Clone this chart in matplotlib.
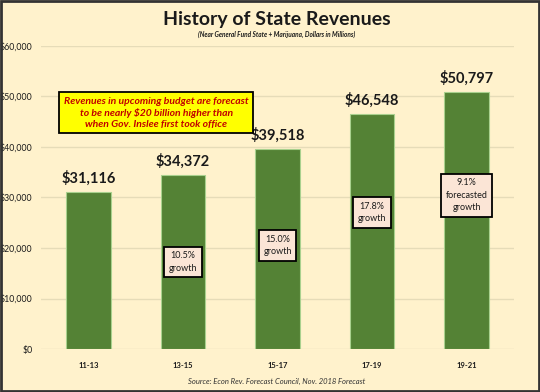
import matplotlib.pyplot as plt
from matplotlib.patches import Rectangle

periods = ['11-13', '13-15', '15-17', '17-19', '19-21']
revenues = [31116, 34372, 39518, 46548, 50797]
growth_labels = ['', '10.5%\ngrowth', '15.0%\ngrowth', '17.8%\ngrowth', '9.1%\nforecasted\ngrowth']
growth_y = [0, 17200, 20500, 27000, 30400]
yticks = [0, 10000, 20000, 30000, 40000, 50000, 60000]

bg = '#FFF2CC'
plt.rcParams['font.family'] = ['Lato', 'DejaVu Sans']

fig = plt.figure(figsize=(5.4, 3.92), dpi=100, facecolor=bg)
ax = fig.add_axes([41/540, 43/392, 473/540, 303/392], facecolor=bg)

x = range(len(periods))
ax.bar(x, revenues, width=0.47, color='#548235', edgecolor='#A9D18E', linewidth=0.8, zorder=3)

for i, v in enumerate(revenues):
    ax.text(i, v + 1300, '${:,}'.format(v), ha='center', va='bottom',
            fontsize=10.5, fontweight='bold', color='#1a1a1a', zorder=4)

for i, lab in enumerate(growth_labels):
    if lab:
        ax.text(i, growth_y[i], lab, ha='center', va='center', fontsize=6.5,
                color='#1a1a1a', linespacing=1.5, zorder=5,
                bbox=dict(boxstyle='square,pad=0.5', fc='#FBE5D6', ec='black', lw=1.3))

ax.set_xlim(-0.5, 4.5)
ax.set_ylim(0, 60000)
ax.set_yticks(yticks)
ax.set_yticklabels(['${:,}'.format(t) for t in yticks], fontsize=6.3, color='#1a1a1a')
ax.set_xticks(list(x))
ax.set_xticklabels(periods, fontsize=5.5, fontweight='bold', color='#1a1a1a')
ax.tick_params(length=0, pad=6)
ax.tick_params(axis='x', pad=9)
ax.grid(axis='y', color='#E6DCB8', linewidth=1, zorder=0)
for s in ax.spines.values():
    s.set_visible(False)

ax.text(0.72, 46800, 'Revenues in upcoming budget are forecast\nto be nearly $20 billion higher than\nwhen Gov. Inslee first took office',
        ha='center', va='center', fontsize=7.5, fontweight='bold', fontstyle='italic',
        color='#C00000', linespacing=1.25, zorder=6,
        bbox=dict(boxstyle='square,pad=0.45', fc='#FFFF00', ec='black', lw=1.3))

fig.text(0.513, 1 - 20/392, 'History of State Revenues', ha='center', va='center',
         fontsize=14, fontweight='bold', color='#1a1a1a')
fig.text(0.513, 1 - 34/392, '(Near General Fund State + Marijuana, Dollars in Millions)', ha='center',
         va='center', fontsize=4.7, fontweight='bold', fontstyle='italic', color='#1a1a1a')
fig.text(0.513, 1 - 381/392, 'Source: Econ Rev. Forecast Council, Nov. 2018 Forecast', ha='center',
         va='center', fontsize=5.5, fontstyle='italic', color='#333333')

fig.patches.append(Rectangle((0.002, 0.003), 0.996, 0.994, transform=fig.transFigure,
                             fill=False, ec='#333333', lw=2))

fig.savefig('out.png', dpi=100, facecolor=bg)
